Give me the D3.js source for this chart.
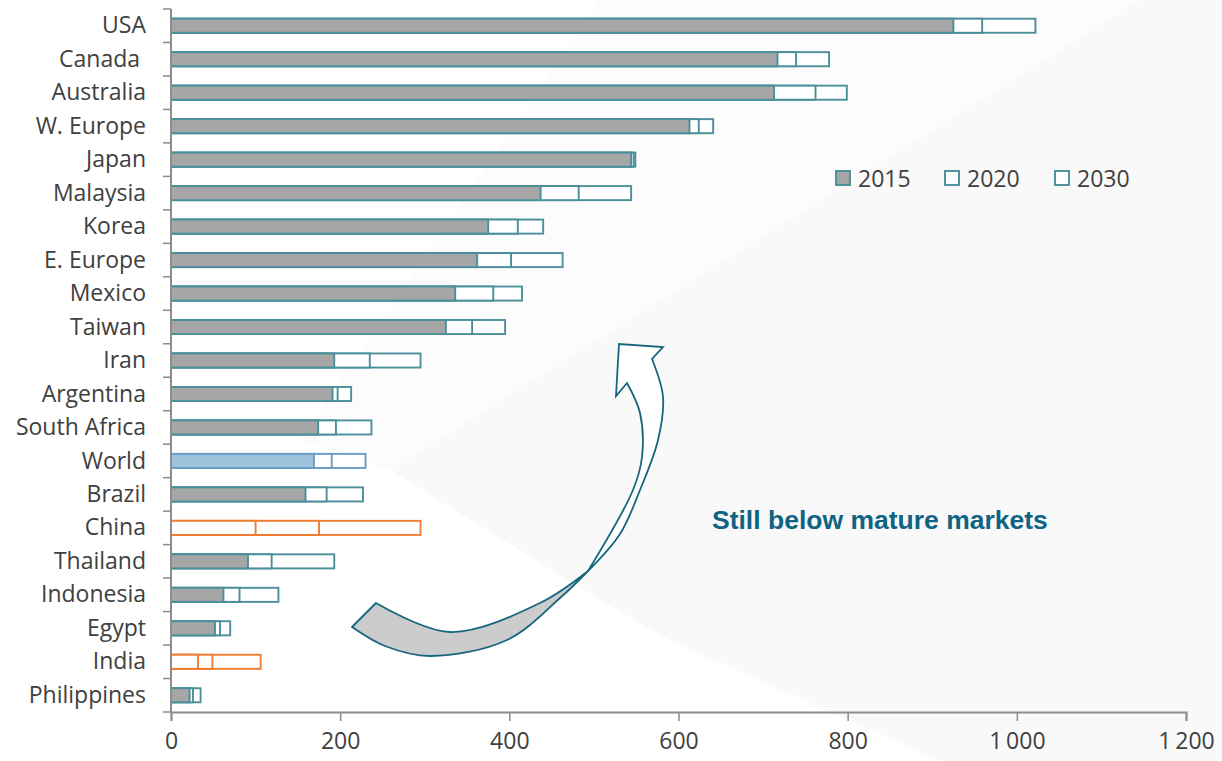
<!DOCTYPE html>
<html>
<head>
<meta charset="utf-8">
<script src="https://cdn.jsdelivr.net/npm/d3@7"></script>
<style>
  html, body { margin: 0; padding: 0; background: #ffffff; }
  svg { display: block; }
  svg text { white-space: pre; }
</style>
</head>
<body>
<svg id="chart" width="1222" height="761"></svg>
<script>
// Countries / regions, top to bottom
const countries = ["USA", "Canada ", "Australia", "W. Europe", "Japan", "Malaysia", "Korea",
  "E. Europe", "Mexico", "Taiwan", "Iran", "Argentina", "South Africa", "World", "Brazil",
  "China", "Thailand", "Indonesia", "Egypt", "India", "Philippines"];

// Level per year (cumulative, read on the horizontal axis)
const values2015 = [925, 717, 713, 613, 544, 437, 375, 362, 336, 325, 193, 191, 174, 169, 159,
  100, 91, 62, 52, 32, 22];
const values2020 = [959, 739, 762, 624, 547, 482, 410, 402, 381, 356, 235, 197, 195, 190, 184,
  175, 119, 81, 58, 49, 26];
const values2030 = [1022, 778, 799, 641, 549, 544, 440, 463, 415, 395, 295, 213, 237, 230, 227,
  295, 193, 127, 70, 106, 35];

const years = ["2015", "2020", "2030"];
const xTicks = [0, 200, 400, 600, 800, 1000, 1200];

// Highlighted rows
const worldRow = "World";
const emergingRows = ["China", "India"];

const TEAL = "#4a8f9a";
const GRAY = "#a6a6a6";
const WORLD_FILL = "#9fc2dc";
const WORLD_STROKE = "#6a9cc5";
const ORANGE = "#ed7d31";
const TEXT = "#404040";
const FONT = "'Open Sans', Lato, sans-serif";
const FONT_SIZE = 23;

const svg = d3.select("#chart");
const W = 1222, H = 761;
const margin = { left: 171, right: 36, top: 9, bottom: 49 };

// Very faint diagonal watermark shapes in the background
const bg = svg.append("g");
bg.append("rect").attr("width", W).attr("height", H).attr("fill", "#ffffff");
bg.append("path").attr("d", "M1140,0 L1222,0 L1222,761 L880,761 L600,600 L390,470 Z")
  .attr("fill", "#f9f9f9");
bg.append("path").attr("d", "M600,0 L1140,0 L390,470 L300,440 Z").attr("fill", "#fcfcfc");
bg.append("path").attr("d", "M560,640 Q700,700 860,761 L940,761 Q760,680 600,610 Z")
  .attr("fill", "#ffffff");

const x = d3.scaleLinear().domain([0, 1200]).range([margin.left, W - margin.right]);
const y = d3.scaleBand().domain(countries).range([margin.top, H - margin.bottom])
  .paddingInner(0.58).paddingOuter(0.29);

function strokeFor(c) {
  if (c === worldRow) return WORLD_STROKE;
  if (emergingRows.includes(c)) return ORANGE;
  return TEAL;
}
function fillFor(c) {
  if (c === worldRow) return WORLD_FILL;
  if (emergingRows.includes(c)) return "#ffffff";
  return GRAY;
}

const rows = countries.map((c, i) => ({ c, v15: values2015[i], v20: values2020[i], v30: values2030[i] }));

const bars = svg.append("g");
const rowG = bars.selectAll("g").data(rows).join("g")
  .attr("transform", d => `translate(0,${y(d.c)})`);

// 2030 outline (longest), then 2020 outline, then 2015 filled on top
const SW = 1.9;
rowG.append("rect")
  .attr("x", x(0)).attr("y", 0)
  .attr("width", d => x(d.v30) - x(0)).attr("height", y.bandwidth())
  .attr("fill", "#ffffff").attr("stroke", d => strokeFor(d.c)).attr("stroke-width", SW);
rowG.append("rect")
  .attr("x", x(0)).attr("y", 0)
  .attr("width", d => x(d.v20) - x(0)).attr("height", y.bandwidth())
  .attr("fill", "#ffffff").attr("stroke", d => strokeFor(d.c)).attr("stroke-width", SW);
rowG.append("rect")
  .attr("x", x(0)).attr("y", 0)
  .attr("width", d => x(d.v15) - x(0)).attr("height", y.bandwidth())
  .attr("fill", d => fillFor(d.c)).attr("stroke", d => strokeFor(d.c)).attr("stroke-width", SW);

// Category axis
const yAxis = d3.axisLeft(y).tickSize(0).tickPadding(25);
const yG = svg.append("g").attr("transform", `translate(${x(0)},0)`).call(yAxis);
yG.select(".domain").remove();
yG.selectAll("text").attr("font-family", FONT).attr("font-size", FONT_SIZE).attr("fill", TEXT)
  .attr("dy", "0.33em");

// Tick marks between categories
const step = y.step();
const edges = d3.range(countries.length + 1).map(i => margin.top + i * step);
svg.append("g").selectAll("line").data(edges).join("line")
  .attr("x1", x(0) - 8).attr("x2", x(0))
  .attr("y1", d => d).attr("y2", d => d)
  .attr("stroke", "#8c8c8c").attr("stroke-width", 1.5);
svg.append("line")
  .attr("x1", x(0)).attr("x2", x(0))
  .attr("y1", margin.top).attr("y2", H - margin.bottom)
  .attr("stroke", "#8c8c8c").attr("stroke-width", 2);

// Value axis
const fmt = d => d3.format(",")(d).replace(/,/g, "\u2009");
const xAxis = d3.axisBottom(x).tickValues(xTicks).tickSize(9).tickPadding(12).tickFormat(fmt);
const xG = svg.append("g").attr("transform", `translate(0,${H - margin.bottom})`).call(xAxis);
xG.select(".domain").attr("stroke", "#8c8c8c").attr("stroke-width", 2);
xG.selectAll(".tick line").attr("stroke", "#8c8c8c").attr("stroke-width", 1.5);
xG.selectAll("text").attr("font-family", FONT).attr("font-size", FONT_SIZE).attr("fill", TEXT);

// Legend
const legendX = [836, 945, 1055];
const legend = svg.append("g");
years.forEach((yr, i) => {
  const g = legend.append("g").attr("transform", `translate(${legendX[i]},171)`);
  g.append("rect").attr("x", 0).attr("y", 0).attr("width", 14).attr("height", 14)
    .attr("fill", i === 0 ? GRAY : "#ffffff").attr("stroke", TEAL).attr("stroke-width", SW);
  g.append("text").attr("x", 22).attr("y", 16).text(yr)
    .attr("font-family", FONT).attr("font-size", FONT_SIZE).attr("fill", TEXT);
});

// Twisted curved arrow annotation
const curve = d3.line().curve(d3.curveCatmullRom.alpha(0.5));
const ARROW = "#17667f";
const tailOuter = [[352, 627], [385, 646], [430, 656], [507, 640], [560, 598], [588, 571]];
const tailInner = [[588, 571], [540, 603], [450, 632], [376, 603]];
const grayPath = curve(tailOuter) + "L" + curve(tailInner).slice(1) + "Z";
svg.append("path").attr("d", grayPath).attr("fill", "#cccccc")
  .attr("stroke", ARROW).attr("stroke-width", 1.8).attr("stroke-linejoin", "round");

const headRight = [[588, 571], [620, 534], [640, 490], [658, 440], [663, 397], [652, 359]];
const headLeft = [[627, 383], [640, 413], [642, 457], [633, 490], [588, 571]];
const headPath = curve(headRight) + "L663,347 L619,344 L616,396 L627,383" + "L" + curve(headLeft).slice(1) + "Z";
svg.append("path").attr("d", headPath).attr("fill", "#ffffff")
  .attr("stroke", ARROW).attr("stroke-width", 1.8).attr("stroke-linejoin", "miter");

svg.append("text").attr("x", 712).attr("y", 529)
  .text("Still below mature markets")
  .attr("font-family", "'Liberation Sans', Arial, sans-serif")
  .attr("font-weight", "bold").attr("font-size", 26.5).attr("fill", "#0f6383");
</script>
</body>
</html>
